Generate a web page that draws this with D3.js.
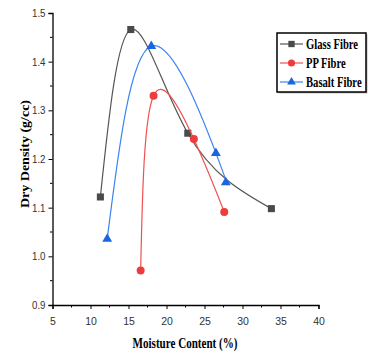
<!DOCTYPE html>
<html>
<head>
<meta charset="utf-8">
<script src="https://cdn.jsdelivr.net/npm/d3@7"></script>
<style>
  body { margin: 0; background: #fff; }
  svg { display: block; }
</style>
</head>
<body>
<svg id="plot" width="374" height="353"></svg>
<script>
// data
let glassX = [11.3, 15.3, 22.8, 33.8];
let glassY = [1.122, 1.466, 1.253, 1.098];
let ppX = [16.6, 18.3, 23.6, 27.6];
let ppY = [0.971, 1.330, 1.241, 1.091];
let basaltX = [12.2, 18.0, 26.5, 27.8];
let basaltY = [1.036, 1.432, 1.212, 1.152];

let seriesNames = ["Glass Fibre", "PP Fibre", "Basalt Fibre"];
let xTicks = [5, 10, 15, 20, 25, 30, 35, 40];
let yTicks = [0.9, 1.0, 1.1, 1.2, 1.3, 1.4, 1.5];

let series = [
  {name: seriesNames[0], xs: glassX, ys: glassY, line: "#555555", fill: "#4a4a4a", shape: d3.symbolSquare, size: 50},
  {name: seriesNames[1], xs: ppX, ys: ppY, line: "#f05050", fill: "#ee3b3b", shape: d3.symbolCircle, size: 50},
  {name: seriesNames[2], xs: basaltX, ys: basaltY, line: "#3a85f0", fill: "#1a66e0", shape: d3.symbolTriangle, size: 42}
];

let svg = d3.select("#plot");
let serif = "Liberation Serif, Times New Roman, serif";

// scales
let xScale = d3.scaleLinear().domain([5, 40]).range([52.5, 318.5]);
let yScale = d3.scaleLinear().domain([0.9, 1.5]).range([305, 13]);

// axes
let xAxis = d3.axisBottom(xScale).tickValues(xTicks).tickSize(4).tickFormat(d3.format("d"));
let yAxis = d3.axisLeft(yScale).tickValues(yTicks).tickSize(4).tickFormat(d3.format(".1f"));

let gx = svg.append("g").attr("transform", "translate(0,305)").call(xAxis);
let gy = svg.append("g").attr("transform", "translate(52.5,0)").call(yAxis);

[gx, gy].forEach(g => {
  g.select(".domain").attr("stroke", "#000").attr("stroke-width", 1.3);
  g.selectAll(".tick line").attr("stroke", "#000").attr("stroke-width", 1);
  g.selectAll(".tick text")
    .attr("font-family", "Liberation Sans, Arial, sans-serif")
    .attr("font-size", 11)
    .attr("fill", "#333");
});
gx.selectAll(".tick text").attr("y", 13).attr("dy", "0.71em").attr("font-size", 10.5);
gy.selectAll(".tick text").attr("textLength", 13.5).attr("lengthAdjust", "spacingAndGlyphs");

// minor ticks
let xMinor = d3.range(7.5, 40, 5);
let yMinor = d3.range(0.95, 1.5, 0.1);
gx.selectAll(".minor").data(xMinor).enter().append("line")
  .attr("x1", d => xScale(d)).attr("x2", d => xScale(d))
  .attr("y1", 0).attr("y2", 2.5).attr("stroke", "#000");
gy.selectAll(".minor").data(yMinor).enter().append("line")
  .attr("y1", d => yScale(d)).attr("y2", d => yScale(d))
  .attr("x1", 0).attr("x2", -2.5).attr("stroke", "#000");

// axis titles
svg.append("text")
  .attr("x", 185).attr("y", 348)
  .attr("text-anchor", "middle")
  .attr("font-family", serif)
  .attr("font-weight", "bold").attr("font-size", 15)
  .attr("textLength", 105).attr("lengthAdjust", "spacingAndGlyphs")
  .text("Moisture Content (%)");

svg.append("text")
  .attr("transform", "translate(29,154) rotate(-90)")
  .attr("text-anchor", "middle")
  .attr("font-family", serif)
  .attr("font-weight", "bold").attr("font-size", 12.5)
  .attr("textLength", 108).attr("lengthAdjust", "spacingAndGlyphs")
  .text("Dry Density (g/cc)");

// lines
let line = d3.line()
  .x(p => xScale(p[0]))
  .y(p => yScale(p[1]))
  .curve(d3.curveNatural);

series.forEach(s => {
  let pts = s.xs.map((x, i) => [x, s.ys[i]]);
  svg.append("path")
    .datum(pts)
    .attr("d", line)
    .attr("fill", "none")
    .attr("stroke", s.line)
    .attr("stroke-width", 1.2);
  svg.selectAll(null)
    .data(pts)
    .enter()
    .append("path")
    .attr("d", d3.symbol().type(s.shape).size(s.size))
    .attr("transform", p => "translate(" + xScale(p[0]) + "," + yScale(p[1]) + ")")
    .attr("fill", s.fill);
});

// legend
let legend = svg.append("g");
legend.append("rect")
  .attr("x", 278.5).attr("y", 34.5).attr("width", 89).attr("height", 59)
  .attr("fill", "#bbb");
legend.append("rect")
  .attr("x", 277).attr("y", 33).attr("width", 89).attr("height", 59)
  .attr("fill", "#fff").attr("stroke", "#000").attr("stroke-width", 1.5);

series.forEach((s, i) => {
  let y = 44 + i * 19;
  legend.append("line")
    .attr("x1", 280).attr("x2", 303).attr("y1", y).attr("y2", y)
    .attr("stroke", s.line).attr("stroke-width", 1.2);
  legend.append("path")
    .attr("d", d3.symbol().type(s.shape).size(s.size * 0.8))
    .attr("transform", "translate(291.5," + y + ")")
    .attr("fill", s.fill);
  // squeezed horizontally like the reference's narrow bold serif
  legend.append("text")
    .attr("transform", "translate(306," + (y + 5) + ") scale(0.76,1)")
    .attr("font-family", serif)
    .attr("font-weight", "bold").attr("font-size", 14)
    .text(s.name);
});
</script>
</body>
</html>
